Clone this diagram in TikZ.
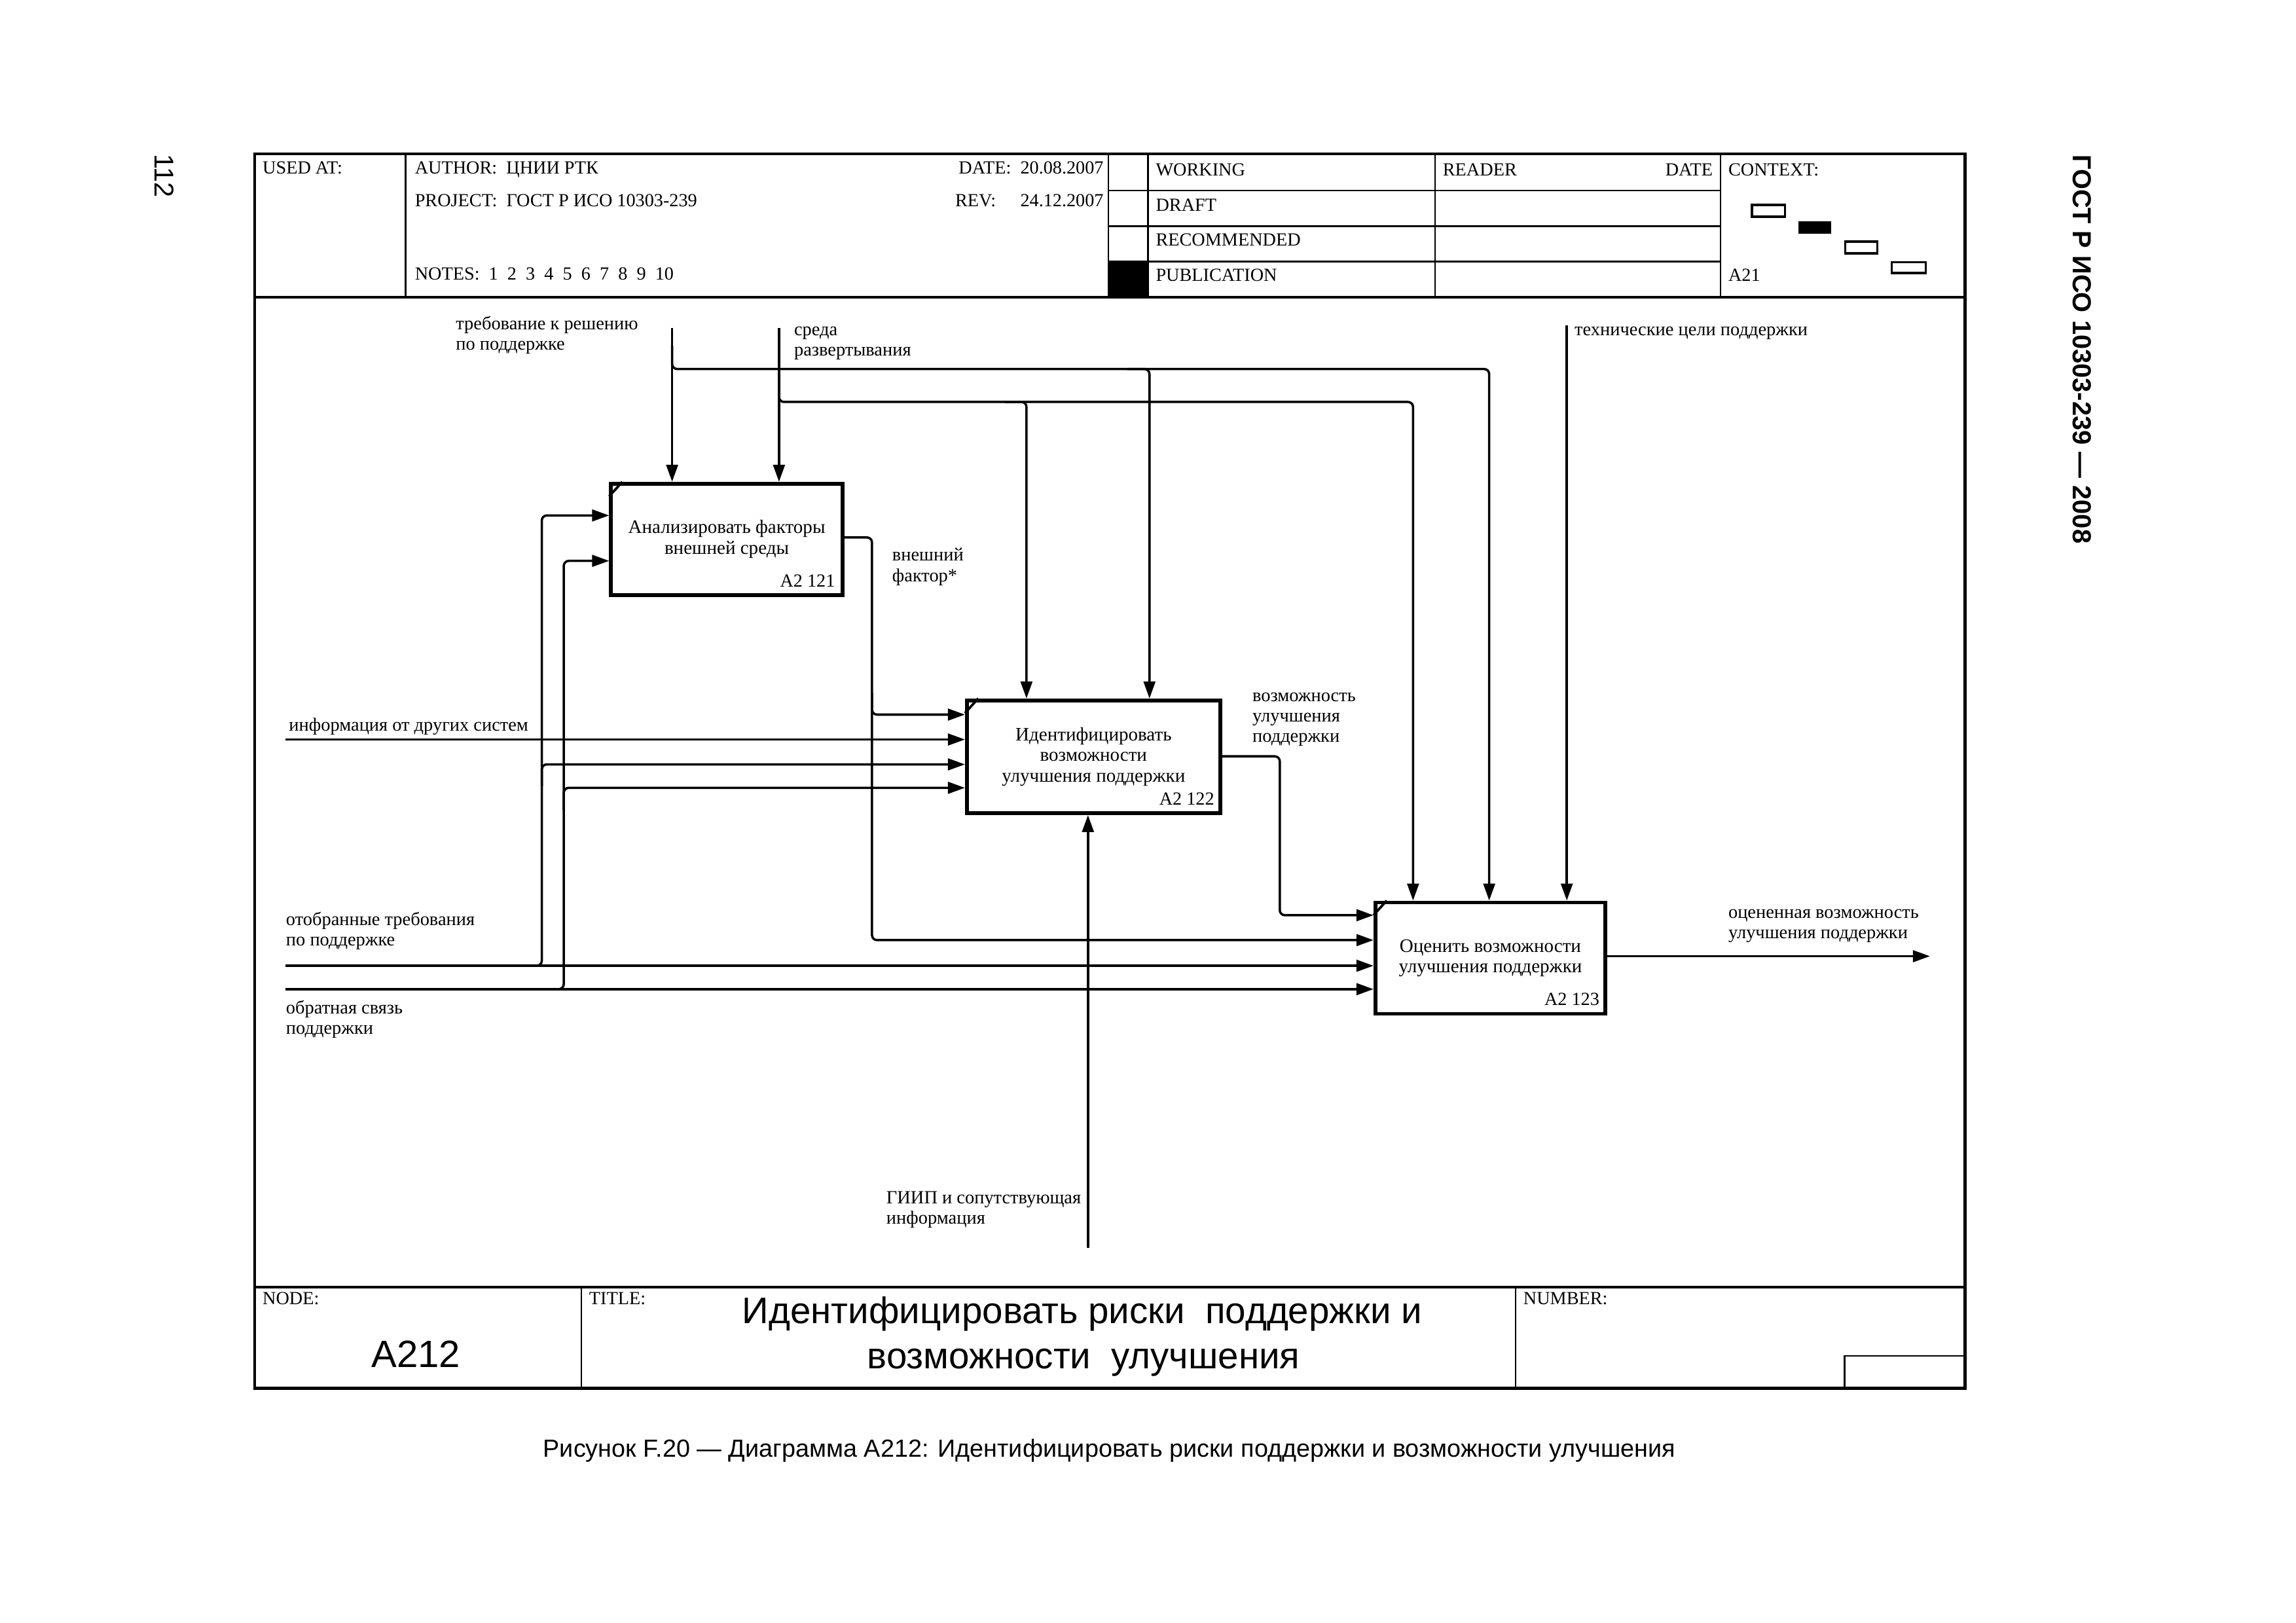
\documentclass[tikz,border=0pt]{standalone}
\usepackage{fontspec}
\setmainfont{Liberation Serif}
\newfontfamily\sansf{Liberation Sans}
\usetikzlibrary{arrows.meta,calc}
\begin{document}
\begin{tikzpicture}[x=0.18935mm,y=-0.18935mm,
  border/.style={line width=1.1pt},
  rule/.style={line width=0.6pt},
  hdr/.style={font=\fontsize{6.8}{8}\selectfont, inner sep=0pt, anchor=base west},
  lbl/.style={font=\fontsize{6.85}{7.5}\selectfont, inner sep=0pt, align=left, anchor=north west},
  act/.style={draw, line width=1.4pt, inner sep=0pt, anchor=north west, align=center, font=\fontsize{7}{7.6}\selectfont},
  idl/.style={font=\fontsize{6.8}{8}\selectfont, inner sep=0pt, anchor=base east},
  tick/.style={line width=0.9pt},
  conn/.style={line width=0.85pt, rounded corners=0.65mm, -{Triangle[length=2.2mm,width=1.5mm]}},
]
\useasboundingbox (0,0) rectangle (1568,1108);

% ---------- frame ----------
\draw[border] (174,105) rectangle (1342,948);
\draw[border] (174,203) -- (1342,203);
\draw[border] (174,879) -- (1342,879);
\draw[rule] (277,105) -- (277,203);
\draw[rule] (757,105) -- (757,203);
\draw[rule] (784,105) -- (784,203);
\draw[rule] (980,105) -- (980,203);
\draw[rule] (1175,105) -- (1175,203);
\draw[rule] (757,130) -- (1175,130);
\draw[rule] (757,154.5) -- (1175,154.5);
\draw[rule] (757,178.5) -- (1175,178.5);
\fill (757,178.5) rectangle (784,203);
\draw[rule] (397,879) -- (397,948);
\draw[rule] (1035,879) -- (1035,948);
\draw[rule] (1259.6,948) -- (1259.6,926) -- (1342,926);

% context boxes
\draw[line width=0.8pt] (1196.5,140) rectangle (1219,148);
\fill (1228,151) rectangle (1250.5,159.5);
\draw[line width=0.8pt] (1260,165) rectangle (1282,173);
\draw[line width=0.8pt] (1292,179) rectangle (1315,186.5);

% ---------- header texts ----------
\node[hdr] (hUsed) at (179,118.5) {USED AT:};
\node[hdr] (hAuth) at (283,118.5) {AUTHOR:\ \ ЦНИИ РТК};
\node[hdr, anchor=base east] (hDate) at (754,118.5) {DATE:\ \ 20.08.2007};
\node[hdr] (hProj) at (283,141) {PROJECT:\ \ ГОСТ Р ИСО 10303-239};
\node[hdr] (hRev) at (652,141) {REV:};
\node[hdr, anchor=base east] (hRevD) at (754,141) {24.12.2007};
\node[hdr] (hNotes) at (283,191) {NOTES:\enspace 1\enspace 2\enspace 3\enspace 4\enspace 5\enspace 6\enspace 7\enspace 8\enspace 9\enspace 10};
\node[hdr] (hWork) at (789,120) {WORKING};
\node[hdr] (hDraft) at (789,144) {DRAFT};
\node[hdr] (hRec) at (789,168) {RECOMMENDED};
\node[hdr] (hPub) at (789,192) {PUBLICATION};
\node[hdr] (hReader) at (985,120) {READER};
\node[hdr, anchor=base east] (hRDate) at (1170,120) {DATE};
\node[hdr] (hCtx) at (1180,120) {CONTEXT:};
\node[hdr] (hA21) at (1180,192) {A21};

% ---------- footer texts ----------
\node[hdr] (fNode) at (179,891) {NODE:};
\node[hdr] (fTitle) at (402,891) {TITLE:};
\node[hdr] (fNum) at (1040,891) {NUMBER:};
\node[font=\sansf\fontsize{14}{16}\selectfont, inner sep=0pt, anchor=base] (fA212) at (284,933.6) {A212};
\node[font=\sansf\fontsize{13.6}{16}\selectfont, inner sep=0pt, anchor=base] (fT1) at (739,904) {Идентифицировать риски\ \ поддержки и};
\node[font=\sansf\fontsize{13.6}{16}\selectfont, inner sep=0pt, anchor=base] (fT2) at (740,934.5) {возможности\ \ улучшения};

% caption and page marks
\node[font=\sansf\fontsize{9.1}{11}\selectfont, inner sep=0pt, anchor=base] (cap) at (757.5,995) {Рисунок F.20 — Диаграмма А212: Идентифицировать риски поддержки и возможности улучшения};
\node[font=\sansf\bfseries\fontsize{9.6}{11}\selectfont, inner sep=0pt, rotate=-90] (gost) at (1422,238.5) {ГОСТ Р ИСО 10303-239 — 2008};
\node[font=\sansf\fontsize{10}{12}\selectfont, inner sep=0pt, rotate=-90] (pg) at (112,120) {112};

% ---------- activity boxes ----------
\node[act, minimum width=29.92mm, minimum height=14.39mm] (b1) at (416,329) {Анализировать факторы\\внешней среды};
\node[act, minimum width=32.76mm, minimum height=14.58mm] (b2) at (659,477) {Идентифицировать\\возможности\\улучшения поддержки};
\node[act, minimum width=29.73mm, minimum height=14.39mm] (b3) at (938,615) {Оценить возможности\\улучшения поддержки};
\node[idl] (b1id) at ($(b1.south east)+(-6,-7)$) {A2 121};
\node[idl] (b2id) at ($(b2.south east)+(-5,-7)$) {A2 122};
\node[idl] (b3id) at ($(b3.south east)+(-5,-7)$) {A2 123};
\draw[tick] ($(b1.north west)+(0,10)$) -- ($(b1.north west)+(9,0)$);
\draw[tick] ($(b2.north west)+(0,10)$) -- ($(b2.north west)+(9,0)$);
\draw[tick] ($(b3.north west)+(0,10)$) -- ($(b3.north west)+(9,0)$);

% ---------- free ends ----------
\coordinate (cTreb) at (459,224);
\coordinate (cSreda) at (532,224);
\coordinate (cTech) at (1070,222);
\coordinate (cInfo) at (195,505);
\coordinate (cOtob) at (195,659.5);
\coordinate (cObr) at (195,675.5);
\coordinate (cGiip) at (743,852);
\coordinate (cOut) at (1318,653);

% ---------- connectors ----------
% требование к решению
\draw[conn] (cTreb) -- (cTreb |- b1.north);
\draw[conn] (459,236) -- (459,252) -- (1017,252) -- (b3.north -| 1017,0);
\draw[conn] (770,252) -- (785,252) -- (b2.north -| 785,0);
% среда развертывания
\draw[conn] (cSreda) -- (cSreda |- b1.north);
\draw[conn] (532,258) -- (532,274.5) -- (965,274.5) -- (b3.north -| 965,0);
\draw[conn] (686,274.5) -- (701,274.5) -- (b2.north -| 701,0);
% технические цели
\draw[conn] (cTech) -- (cTech |- b3.north);
% информация от других систем
\draw[conn] (cInfo) -- (cInfo -| b2.west);
% отобранные требования
\draw[conn] (cOtob) -- (cOtob -| b3.west);
\draw[conn] (355,659.5) -- (370,659.5) -- (370,352) -- (b1.west |- 0,352);
\draw[conn] (370,537) -- (370,522) -- (b2.west |- 0,522);
% обратная связь
\draw[conn] (cObr) -- (cObr -| b3.west);
\draw[conn] (370,675.5) -- (385,675.5) -- (385,383) -- (b1.west |- 0,383);
\draw[conn] (385,553) -- (385,538) -- (b2.west |- 0,538);
% внешний фактор
\draw[conn] (b1.east |- 0,367) -- (595.5,367) -- (595.5,642) -- (b3.west |- 0,642);
\draw[conn] (595.5,473) -- (595.5,488) -- (b2.west |- 0,488);
% возможность улучшения
\draw[conn] (b2.east |- 0,516.5) -- (874,516.5) -- (874,625) -- (b3.west |- 0,625);
% ГИИП
\draw[conn] (cGiip) -- (cGiip |- b2.south);
% output
\draw[conn] (b3.east |- cOut) -- (cOut);

% ---------- labels ----------
\node[lbl] (lTreb) at (311,215) {\strut требование к решению\\по поддержке};
\node[lbl] (lSreda) at (542,219) {\strut среда\\развертывания};
\node[lbl] (lTech) at (1075,219) {\strut технические цели поддержки};
\node[lbl] (lVnesh) at (609,373) {\strut внешний\\фактор*};
\node[lbl] (lInfo) at (197,489) {\strut информация от других систем};
\node[lbl] (lVozm) at (855,469) {\strut возможность\\улучшения\\поддержки};
\node[lbl] (lOtob) at (195,622) {\strut отобранные требования\\по поддержке};
\node[lbl] (lObr) at (195,682) {\strut обратная связь\\поддержки};
\node[lbl] (lOut) at (1180,617) {\strut оцененная возможность\\улучшения поддержки};
\node[lbl] (lGiip) at (605,812) {\strut ГИИП и сопутствующая\\информация};
\end{tikzpicture}
\end{document}
